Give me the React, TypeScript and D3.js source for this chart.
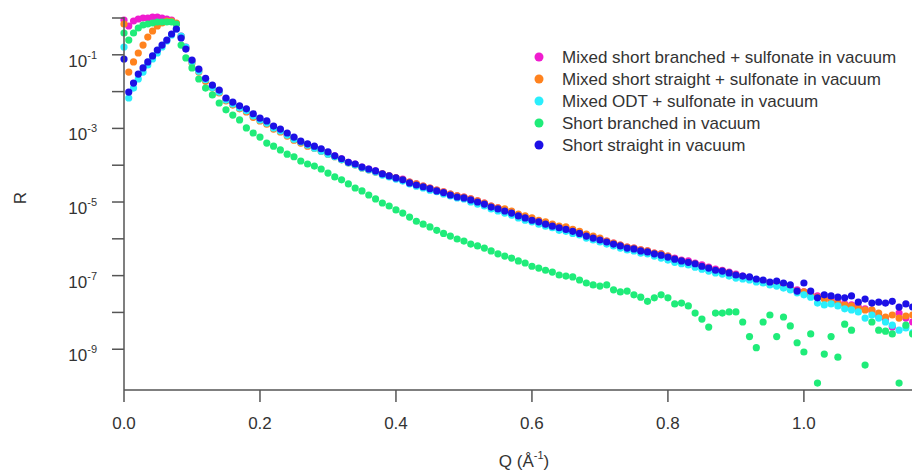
import React from "react";
import * as d3 from "d3";

// Q grid shared by all five reflectivity curves (Å^-1)
const qValues = [
  0, 0.007, 0.014, 0.021, 0.028, 0.035, 0.042, 0.049, 0.056, 0.063, 0.07, 0.077, 0.084, 0.091,
  0.1, 0.11, 0.12, 0.13, 0.14, 0.15, 0.16, 0.17, 0.18, 0.19, 0.2,
  0.21, 0.22, 0.23, 0.24, 0.25, 0.26, 0.27, 0.28, 0.29, 0.3,
  0.31, 0.32, 0.33, 0.34, 0.35, 0.36, 0.37, 0.38, 0.39, 0.4,
  0.41, 0.42, 0.43, 0.44, 0.45, 0.46, 0.47, 0.48, 0.49, 0.5,
  0.51, 0.52, 0.53, 0.54, 0.55, 0.56, 0.57, 0.58, 0.59, 0.6,
  0.61, 0.62, 0.63, 0.64, 0.65, 0.66, 0.67, 0.68, 0.69, 0.7,
  0.71, 0.72, 0.73, 0.74, 0.75, 0.76, 0.77, 0.78, 0.79, 0.8,
  0.81, 0.82, 0.83, 0.84, 0.85, 0.86, 0.87, 0.88, 0.89, 0.9,
  0.91, 0.92, 0.93, 0.94, 0.95, 0.96, 0.97, 0.98, 0.99, 1.0,
  1.01, 1.02, 1.03, 1.04, 1.05, 1.06, 1.07, 1.08, 1.09, 1.1,
  1.11, 1.12, 1.13, 1.14, 1.15, 1.16,
];

const rMixedBranched = [
  0.882, 0.606, 0.829, 0.939, 1.0, 1.0, 1.065, 1.065, 1.0, 0.939, 0.882, 0.687, 0.324, 0.163,
  6.8e-2, 3.9e-2, 2.2e-2, 1.4e-2, 1.04e-2, 6.3e-3, 4.9e-3, 3.8e-3, 3.2e-3, 2.3e-3, 1.8e-3,
  1.5e-3, 1.09e-3, 9.0e-4, 7.0e-4, 5.5e-4, 4.3e-4, 3.5e-4, 3.1e-4, 2.6e-4, 2.2e-4,
  1.8e-4, 1.5e-4, 1.2e-4, 1.08e-4, 8.9e-5, 7.9e-5, 7.0e-5, 5.8e-5, 5.1e-5, 4.5e-5,
  4.2e-5, 3.5e-5, 3.1e-5, 2.7e-5, 2.4e-5, 2.1e-5, 1.9e-5, 1.65e-5, 1.46e-5, 1.37e-5,
  1.21e-5, 1.07e-5, 9.4e-6, 7.8e-6, 6.9e-6, 6.1e-6, 5.3e-6, 4.4e-6, 3.9e-6, 3.4e-6,
  3.0e-6, 2.7e-6, 2.4e-6, 2.1e-6, 2.0e-6, 1.7e-6, 1.5e-6, 1.27e-6, 1.12e-6, 9.9e-7,
  8.7e-7, 7.7e-7, 6.8e-7, 6.0e-7, 5.6e-7, 5.0e-7, 4.7e-7, 4.1e-7, 3.9e-7, 3.4e-7,
  3.0e-7, 2.65e-7, 2.5e-7, 2.2e-7, 1.95e-7, 1.7e-7, 1.5e-7, 1.4e-7, 1.25e-7, 1.1e-7,
  9.7e-8, 8.6e-8, 7.6e-8, 7.1e-8, 6.3e-8, 5.9e-8, 5.2e-8, 4.6e-8, 4.1e-8, 3.6e-8,
  3.2e-8, 2.8e-8, 2.5e-8, 2.2e-8, 1.9e-8, 1.7e-8, 1.6e-8, 1.4e-8, 1.25e-8, 1.1e-8,
  8.0e-9, 6.2e-9, 4.0e-9, 9.6e-9, 7.0e-9, 5.5e-9,
];

const rMixedStraight = [
  0.687, 3.4e-2, 6.4e-2, 0.112, 0.184, 0.304, 0.443, 0.606, 0.731, 0.829, 0.829, 0.731, 0.304, 0.153,
  6.0e-2, 3.4e-2, 1.9e-2, 1.25e-2, 9.2e-3, 5.6e-3, 4.3e-3, 3.4e-3, 2.8e-3, 2.0e-3, 1.6e-3,
  1.3e-3, 9.6e-4, 8.0e-4, 6.2e-4, 4.8e-4, 4.0e-4, 3.3e-4, 2.9e-4, 2.4e-4, 2.0e-4,
  1.7e-4, 1.4e-4, 1.15e-4, 1.02e-4, 8.4e-5, 7.4e-5, 6.5e-5, 5.8e-5, 5.1e-5, 4.5e-5,
  4.0e-5, 3.5e-5, 3.1e-5, 2.7e-5, 2.4e-5, 2.1e-5, 1.9e-5, 1.65e-5, 1.46e-5, 1.37e-5,
  1.21e-5, 1.07e-5, 9.4e-6, 7.8e-6, 6.9e-6, 6.5e-6, 5.7e-6, 4.7e-6, 4.2e-6, 3.7e-6,
  3.2e-6, 2.9e-6, 2.5e-6, 2.2e-6, 2.1e-6, 1.8e-6, 1.6e-6, 1.35e-6, 1.19e-6, 1.05e-6,
  8.7e-7, 7.7e-7, 6.8e-7, 6.0e-7, 5.6e-7, 5.0e-7, 4.7e-7, 4.1e-7, 3.9e-7, 3.4e-7,
  2.8e-7, 2.5e-7, 2.3e-7, 2.1e-7, 1.8e-7, 1.6e-7, 1.4e-7, 1.33e-7, 1.18e-7, 1.04e-7,
  9.2e-8, 8.6e-8, 7.6e-8, 6.7e-8, 5.9e-8, 5.6e-8, 4.9e-8, 4.3e-8, 3.8e-8, 3.6e-8,
  3.0e-8, 2.6e-8, 2.3e-8, 2.0e-8, 1.8e-8, 1.6e-8, 1.5e-8, 1.3e-8, 1.17e-8, 1.17e-8,
  9.6e-9, 7.5e-9, 8.5e-9, 7.0e-9, 8.0e-9, 8.5e-9,
];

const rMixedOdt = [
  0.163, 6.7e-3, 1.25e-2, 2.2e-2, 3.4e-2, 5.3e-2, 7.7e-2, 0.112, 0.163, 0.237, 0.345, 0.502, 0.324, 0.163,
  6.4e-2, 3.6e-2, 2.1e-2, 1.3e-2, 9.7e-3, 5.9e-3, 4.6e-3, 3.6e-3, 3.0e-3, 2.2e-3, 1.7e-3,
  1.4e-3, 1.03e-3, 8.5e-4, 6.6e-4, 5.1e-4, 4.3e-4, 3.5e-4, 2.9e-4, 2.4e-4, 2.0e-4,
  1.7e-4, 1.4e-4, 1.15e-4, 1.02e-4, 8.4e-5, 7.4e-5, 6.5e-5, 5.4e-5, 4.8e-5, 4.2e-5,
  3.7e-5, 3.1e-5, 2.7e-5, 2.4e-5, 2.1e-5, 1.9e-5, 1.65e-5, 1.46e-5, 1.29e-5, 1.21e-5,
  1.0e-5, 8.8e-6, 7.8e-6, 6.5e-6, 5.7e-6, 5.0e-6, 4.4e-6, 3.7e-6, 3.2e-6, 2.9e-6,
  2.5e-6, 2.2e-6, 2.0e-6, 1.7e-6, 1.6e-6, 1.4e-6, 1.27e-6, 1.05e-6, 9.3e-7, 8.2e-7,
  7.2e-7, 6.4e-7, 5.6e-7, 5.0e-7, 4.7e-7, 4.1e-7, 3.9e-7, 3.4e-7, 3.0e-7, 2.65e-7,
  2.3e-7, 2.1e-7, 1.95e-7, 1.7e-7, 1.5e-7, 1.33e-7, 1.18e-7, 1.1e-7, 9.7e-8, 8.6e-8,
  8.1e-8, 7.6e-8, 6.7e-8, 6.3e-8, 5.6e-8, 5.2e-8, 4.6e-8, 4.1e-8, 3.4e-8, 3.0e-8,
  2.6e-8, 1.8e-8, 1.6e-8, 1.7e-8, 1.5e-8, 1.25e-8, 1.17e-8, 1.03e-8, 7.0e-9, 8.5e-9,
  7.0e-9, 5.5e-9, 4.5e-9, 3.3e-9, 3.8e-9, 2.8e-9,
];

// null = no point in the reference (negative / missing value)
const rShortBranched = [
  0.391, 0.252, 0.391, 0.535, 0.645, 0.687, 0.731, 0.778, 0.778, 0.778, 0.778, 0.687, 0.184, 8.2e-2,
  4.4e-2, 2.2e-2, 1.25e-2, 8.1e-3, 4.9e-3, 3.2e-3, 2.3e-3, 1.7e-3, 1.03e-3, 7.5e-4, 5.8e-4,
  4.0e-4, 3.3e-4, 2.6e-4, 2.0e-4, 1.7e-4, 1.3e-4, 1.08e-4, 9.5e-5, 7.9e-5, 6.1e-5,
  4.8e-5, 4.0e-5, 3.1e-5, 2.4e-5, 2.0e-5, 1.55e-5, 1.21e-5, 9.4e-6, 7.8e-6, 6.1e-6,
  5.0e-6, 3.9e-6, 3.0e-6, 2.5e-6, 2.1e-6, 1.7e-6, 1.4e-6, 1.19e-6, 9.9e-7, 8.7e-7,
  7.2e-7, 6.4e-7, 5.6e-7, 4.7e-7, 3.9e-7, 3.4e-7, 3.0e-7, 2.5e-7, 2.2e-7, 1.8e-7,
  1.6e-7, 1.4e-7, 1.25e-7, 1.04e-7, 9.7e-8, 9.2e-8, 7.6e-8, 6.3e-8, 5.6e-8, 5.2e-8,
  5.6e-8, 4.1e-8, 3.6e-8, 3.8e-8, 3.0e-8, 2.6e-8, 2.0e-8, 2.5e-8, 3.0e-8, 2.5e-8,
  1.7e-8, 1.8e-8, 1.5e-8, 9.6e-9, 6.6e-9, 4.0e-9, 9.6e-9, 9.6e-9, 1.03e-8, 1.03e-8,
  5.5e-9, 2.2e-9, 1.1e-9, 5.5e-9, 8.5e-9, 2.2e-9, 7.5e-9, 4.3e-9, 1.5e-9, 8.4e-10,
  2.6e-9, 1.2e-10, 7.4e-10, 2.2e-9, 6.1e-10, 4.8e-9, 3.3e-9, null, 3.7e-10, 5.5e-9,
  3.3e-9, 3.1e-9, 2.6e-9, 1.2e-10, 4.5e-9, 2.6e-9,
];

const rShortStraight = [
  7.7e-2, 9.7e-3, 1.7e-2, 3.0e-2, 4.4e-2, 6.4e-2, 9.3e-2, 0.135, 0.184, 0.252, 0.367, 0.502, 0.286, 0.143,
  7.2e-2, 4.1e-2, 2.3e-2, 1.5e-2, 1.1e-2, 6.7e-3, 5.2e-3, 4.1e-3, 3.4e-3, 2.5e-3, 1.9e-3,
  1.6e-3, 1.16e-3, 9.6e-4, 7.5e-4, 5.8e-4, 4.5e-4, 3.8e-4, 3.3e-4, 2.8e-4, 2.3e-4,
  1.8e-4, 1.5e-4, 1.2e-4, 1.08e-4, 8.9e-5, 7.9e-5, 7.0e-5, 5.8e-5, 5.1e-5, 4.5e-5,
  4.0e-5, 3.3e-5, 2.9e-5, 2.6e-5, 2.3e-5, 2.0e-5, 1.8e-5, 1.55e-5, 1.37e-5, 1.29e-5,
  1.14e-5, 1.0e-5, 8.8e-6, 7.3e-6, 6.5e-6, 5.7e-6, 5.0e-6, 4.2e-6, 3.7e-6, 3.2e-6,
  2.9e-6, 2.5e-6, 2.2e-6, 2.0e-6, 1.8e-6, 1.6e-6, 1.4e-6, 1.19e-6, 1.05e-6, 9.3e-7,
  8.2e-7, 7.2e-7, 6.4e-7, 5.6e-7, 5.3e-7, 4.7e-7, 4.4e-7, 3.9e-7, 3.6e-7, 3.2e-7,
  2.8e-7, 2.5e-7, 2.3e-7, 2.1e-7, 1.8e-7, 1.6e-7, 1.4e-7, 1.33e-7, 1.18e-7, 1.04e-7,
  9.7e-8, 9.2e-8, 8.1e-8, 7.6e-8, 6.7e-8, 7.1e-8, 6.3e-8, 5.6e-8, 3.8e-8, 6.3e-8,
  3.8e-8, 2.5e-8, 3.0e-8, 2.8e-8, 2.6e-8, 2.5e-8, 2.8e-8, 1.9e-8, 2.3e-8, 1.8e-8,
  1.9e-8, 1.8e-8, 2.0e-8, 1.4e-8, 1.7e-8, 1.4e-8,
];

const seriesNames = [
  "Mixed short branched + sulfonate in vacuum",
  "Mixed short straight + sulfonate in vacuum",
  "Mixed ODT + sulfonate in vacuum",
  "Short branched in vacuum",
  "Short straight in vacuum",
];
const seriesColors = ["#f01ccf", "#ff821e", "#2aeefc", "#1fec79", "#1c10e6"];
const seriesValues = [rMixedBranched, rMixedStraight, rMixedOdt, rShortBranched, rShortStraight];

const xTicks = [0, 0.2, 0.4, 0.6, 0.8, 1.0];
const yTickExps = [0, -1, -2, -3, -4, -5, -6, -7, -8, -9];
const yLabelExps = [-1, -3, -5, -7, -9];

const width = 912;
const height = 472;
const font = "'Liberation Sans', Arial, sans-serif";
const axisColor = "#555";
const textColor = "#333";

export default function App() {
  const x = d3.scaleLinear().domain([0, 1.159]).range([124, 912]);
  const y = d3.scaleLog().domain([7.8e-11, 1]).range([390, 18]);

  return (
    <svg
      width={width}
      height={height}
      style={{ position: "fixed", left: 0, top: 0, background: "#fff" }}
      fontFamily={font}
    >
      <rect width={width} height={height} fill="#fff" />

      {/* markers */}
      <g>
        {seriesValues.map((vals, si) =>
          vals.map((v, i) =>
            v == null ? null : (
              <circle
                key={si + "-" + i}
                cx={x(qValues[i])}
                cy={y(v)}
                r={3.6}
                fill={seriesColors[si]}
              />
            )
          )
        )}
      </g>

      {/* axes */}
      <line x1={124} x2={124} y1={17} y2={390} stroke={axisColor} strokeWidth={1.5} />
      <line x1={124} x2={width} y1={390} y2={390} stroke={axisColor} strokeWidth={1.5} />

      {yTickExps.map((e) => (
        <line
          key={e}
          x1={112}
          x2={124}
          y1={y(Math.pow(10, e))}
          y2={y(Math.pow(10, e))}
          stroke={axisColor}
          strokeWidth={1.5}
        />
      ))}
      {yLabelExps.map((e) => (
        <text key={e} x={97} y={y(Math.pow(10, e)) + 12} textAnchor="end" fontSize={17} fill={textColor}>
          10
          <tspan fontSize={11} dy={-8}>
            {e}
          </tspan>
        </text>
      ))}

      {xTicks.map((t) => (
        <g key={t}>
          <line x1={x(t)} x2={x(t)} y1={390} y2={402} stroke={axisColor} strokeWidth={1.5} />
          <text x={x(t)} y={429} textAnchor="middle" fontSize={17} fill={textColor}>
            {d3.format(".1f")(t)}
          </text>
        </g>
      ))}

      {/* axis titles */}
      <text x={22} y={198} transform="rotate(-90 22 198)" textAnchor="middle" dominantBaseline="middle" fontSize={17} fill={textColor}>
        R
      </text>
      <text x={524} y={467} textAnchor="middle" fontSize={17} fill={textColor}>
        Q (Å
        <tspan fontSize={11} dy={-8}>-1</tspan>
        <tspan dy={8}>)</tspan>
      </text>

      {/* legend */}
      <g>
        {seriesNames.map((name, i) => (
          <g key={name} transform={`translate(539, ${57 + i * 22})`}>
            <circle r={4.5} fill={seriesColors[i]} />
            <text x={23} y={0} dominantBaseline="central" fontSize={17} fill={textColor}>
              {name}
            </text>
          </g>
        ))}
      </g>
    </svg>
  );
}
